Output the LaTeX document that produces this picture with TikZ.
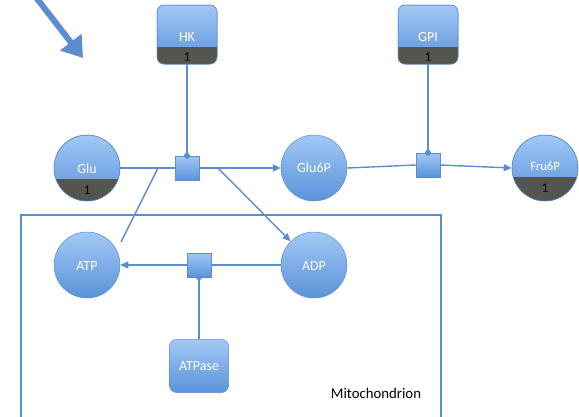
\documentclass[tikz,border=0pt]{standalone}
\usepackage{fontspec}
\setmainfont{Carlito}
\usetikzlibrary{arrows.meta}
\definecolor{lblue}{HTML}{A2C8F5}
\definecolor{dblue}{HTML}{5A93DA}
\definecolor{lineblue}{HTML}{5B8ED0}
\definecolor{band}{HTML}{55554F}
\begin{document}
\begin{tikzpicture}[x=1pt,y=-1pt,
  species/.style={circle, minimum size=66pt, inner sep=0pt, top color=lblue, bottom color=dblue, draw=lineblue, line width=0.5pt},
  procbox/.style={rectangle, minimum size=24pt, inner sep=0pt, top color=lblue, bottom color=dblue, draw=lineblue, line width=0.5pt},
  enzyme/.style={rectangle, rounded corners=7pt, minimum width=60pt, minimum height=59pt, inner sep=0pt, top color=lblue, bottom color=dblue, draw=lineblue, line width=0.5pt},
  link/.style={draw=lineblue, line width=1.4pt},
  arr/.style={link, -{Triangle[length=8pt,width=7pt]}},
  dot/.style={circle, fill=lineblue, inner sep=0pt, minimum size=6pt},
  wlab/.style={text=white, font=\fontsize{14}{16}\selectfont},
  nlab/.style={text=black, font=\fontsize{13.5}{15}\selectfont}]
\useasboundingbox (0,0) rectangle (579,416);
% big arrow
\coordinate (bigs) at (35,-4);
\coordinate (bige) at (83,58);
\draw[lineblue, line width=6pt, -{Triangle[length=20pt,width=26pt]}] (bigs) -- (bige);
% mitochondrion compartment
\draw[lineblue, line width=2.5pt] (21,215) rectangle (441,430);
\node[nlab, font=\fontsize{14.8}{16}\selectfont] (mitolab) at (376,393) {Mitochondrion};
% species
\node[species] (Glu) at (87,168) {};
\node[species] (Glu6P) at (314,168) {};
\node[species] (Fru6P) at (545,168) {};
\node[species] (ATP) at (87,265) {};
\node[species] (ADP) at (314,265) {};
% bands on species
\begin{scope}
\clip (87,168) circle (33pt);
\fill[band] (40,179) rectangle (140,210);
\end{scope}
\begin{scope}
\clip (545,168) circle (33pt);
\fill[band] (500,177) rectangle (600,210);
\end{scope}
\draw[lineblue, line width=0.5pt] (87,168) circle (33pt);
\draw[lineblue, line width=0.5pt] (545,168) circle (33pt);
\node[wlab] at (87,169) {Glu};
\node[nlab] at (87,190) {1};
\node[wlab] at (314,168) {Glu6P};
\node[wlab, font=\fontsize{12.5}{14}\selectfont] at (545,166) {Fru6P};
\node[nlab] at (545,188) {1};
\node[wlab] at (87,266) {ATP};
\node[wlab] at (314,266) {ADP};
% enzymes
\node[enzyme] (HK) at (187,34.5) {};
\node[enzyme] (GPI) at (428,34.5) {};
\begin{scope}
\clip[rounded corners=7pt] (157,5) rectangle (217,64);
\fill[band] (150,47) rectangle (225,70);
\end{scope}
\begin{scope}
\clip[rounded corners=7pt] (398,5) rectangle (458,64);
\fill[band] (390,47) rectangle (465,70);
\end{scope}
\draw[lineblue, line width=0.5pt, rounded corners=7pt] (157,5) rectangle (217,64);
\draw[lineblue, line width=0.5pt, rounded corners=7pt] (398,5) rectangle (458,64);
\node[wlab] at (187,37) {HK};
\node[nlab] at (187,57) {1};
\node[wlab] at (428,37) {GPI};
\node[nlab] at (428,57) {1};
\node[enzyme, minimum width=59pt, minimum height=53pt, text=white, font=\fontsize{14}{16}\selectfont] (ATPase) at (199,366) {ATPase};
% process nodes
\node[procbox] (P1) at (187,168) {};
\node[procbox] (P2) at (428,165) {};
\node[procbox] (P3) at (199,265) {};
% connectors
\coordinate (j1) at (158,168);
\coordinate (j2) at (218,168);
\coordinate (atpend) at (121,242);
\draw[link] (Glu.east) -- (P1.west);
\draw[arr] (P1.east) -- (Glu6P.west);
\draw[link] (Glu6P.east) -- (P2.west);
\draw[arr] (P2.east) -- (Fru6P.west);
\draw[link] (HK.south) -- (P1.north);
\node[dot] at (P1.north) {};
\draw[link] (GPI.south) -- (P2.north);
\node[dot] at (P2.north) {};
\draw[link] (j1) -- (atpend);
\draw[arr] (j2) -- (ADP);
\draw[link] (ADP.west) -- (P3.east);
\draw[arr] (P3.west) -- (ATP.east);
\draw[link] (ATPase.north) -- (P3.south);
\node[dot] at (P3.south) {};
\end{tikzpicture}
\end{document}
